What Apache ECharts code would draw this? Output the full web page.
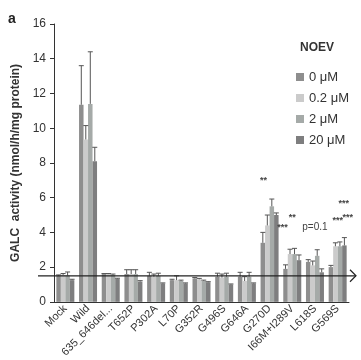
<!DOCTYPE html>
<html>
<head>
<meta charset="utf-8">
<script src="https://cdn.jsdelivr.net/npm/echarts@6/dist/echarts.min.js"></script>
<style>
  html, body { margin: 0; padding: 0; background: #fff; }
  #main { width: 361px; height: 360px; }
</style>
</head>
<body>
<div id="main"></div>
<script>
// categories (mutants)
let categories = ['Mock', 'Wild', '635_646del...', 'T652P', 'P302A', 'L70P', 'G352R',
    'G496S', 'G646A', 'G270D', 'I66M+I289V', 'L618S', 'G569S'];
let seriesNames = ['0 μM', '0.2 μM', '2 μM', '20 μM'];
let yTicks = [0, 2, 4, 6, 8, 10, 12, 14, 16];

// mean activity per NOEV dose
let v0 = [1.5, 11.35, 1.6, 1.6, 1.5, 1.25, 1.35, 1.45, 1.45, 3.4, 1.9, 2.3, 2.0];
let v02 = [1.55, 9.35, 1.6, 1.6, 1.45, 1.25, 1.3, 1.4, 1.2, 4.4, 2.75, 2.1, 3.2];
let v2 = [1.52, 11.4, 1.55, 1.6, 1.5, 1.2, 1.2, 1.45, 1.45, 5.5, 2.75, 2.65, 3.2];
let v20 = [1.25, 8.1, 1.33, 1.17, 1.06, 1.06, 1.13, 1.0, 1.06, 5.0, 2.4, 1.7, 3.25];

// upper error (SD)
let e0 = [0.05, 2.25, 0.03, 0.25, 0.2, 0.05, 0.05, 0.2, 0.25, 0.6, 0.23, 0.13, 0.1];
let e02 = [0.08, 0.8, 0.03, 0.25, 0.15, 0.25, 0.05, 0.2, 0.25, 0.6, 0.28, 0.25, 0.2];
let e2 = [0.2, 3.0, 0.05, 0.25, 0.15, 0.05, 0.05, 0.2, 0.25, 0.42, 0.33, 0.35, 0.25];
let e20 = [0.05, 0.8, 0.03, 0.05, 0.03, 0.03, 0.03, 0.03, 0.03, 0.12, 0.3, 0.2, 0.45];

// significance marks: text, category, value
let annoText = ['**', '***', '**', 'p=0.1', '***', '***', '***'];
let annoCat = ['G270D', 'G270D', 'I66M+I289V', 'L618S', 'G569S', 'G569S', 'G569S'];
let annoVal = [7.0, 4.3, 4.85, 4.3, 5.65, 4.7, 4.85];
let annoDx = [-6, 13, 0, 0, 6, 0, 10];

// reference level (mock)
let refLevel = 1.5;

let values = [v0, v02, v2, v20];
let errors = [e0, e02, e2, e20];
let colors = ['#8e8e8e', '#cbcbcb', '#a5aaa8', '#7e7e7f'];
let barW = 4.5;

var myChart = echarts.init(document.getElementById('main'));

let series = [];
values.forEach(function (arr, i) {
    series.push({
        name: seriesNames[i],
        type: 'bar',
        data: arr,
        barWidth: barW,
        barGap: '0%',
        itemStyle: { color: colors[i] },
        z: 2
    });
});
// error bars (upper only)
values.forEach(function (arr, i) {
    let d = arr.map(function (v, k) { return [k, v, v + errors[i][k]]; });
    series.push({
        type: 'custom',
        data: d,
        z: 3,
        renderItem: function (params, api) {
            let lo = api.coord([api.value(0), api.value(1)]);
            let hi = api.coord([api.value(0), api.value(2)]);
            let x = lo[0] + (i - 1.5) * barW;
            return {
                type: 'group',
                children: [
                    { type: 'line', shape: { x1: x, y1: lo[1], x2: x, y2: hi[1] },
                      style: { stroke: '#555', lineWidth: 1 } },
                    { type: 'line', shape: { x1: x - 2.5, y1: hi[1], x2: x + 2.5, y2: hi[1] },
                      style: { stroke: '#555', lineWidth: 1 } }
                ]
            };
        }
    });
});

let option = {
    animation: false,
    textStyle: { fontFamily: 'Liberation Sans, Arial, sans-serif' },
    grid: { left: 54, right: 12, top: 24, bottom: 58 },
    legend: {
        data: seriesNames,
        orient: 'vertical',
        left: 291,
        top: 65,
        itemWidth: 8,
        itemHeight: 8,
        itemGap: 7,
        icon: 'rect',
        textStyle: { fontSize: 13, color: '#333', lineHeight: 14, height: 14 }
    },
    xAxis: {
        type: 'category',
        data: categories,
        axisLine: { lineStyle: { color: '#333' } },
        axisTick: { length: 5, lineStyle: { color: '#333' } },
        axisLabel: { rotate: 45, fontSize: 11, color: '#333', margin: 5, interval: 0 }
    },
    yAxis: {
        type: 'value',
        min: 0,
        max: 16,
        interval: 2,
        name: 'GALC  activity (nmol/h/mg protein)',
        nameLocation: 'middle',
        nameGap: 30,
        nameTextStyle: { fontSize: 12, fontWeight: 'bold', color: '#333' },
        axisLine: { show: true, lineStyle: { color: '#333' } },
        axisTick: { show: true, length: 4, lineStyle: { color: '#333' } },
        axisLabel: { fontSize: 12, color: '#333', margin: 8,
            formatter: function (v) { return yTicks.indexOf(v) >= 0 ? String(v) : ''; } },
        splitLine: { show: false }
    },
    series: series
};
myChart.setOption(option);

// annotations placed through the axes
let refY = myChart.convertToPixel({ yAxisIndex: 0 }, refLevel);
let right = 356;
let graphics = [
    { type: 'text', left: 8, top: 12, style: { text: 'a', font: 'bold 14px Liberation Sans', fill: '#222' } },
    { type: 'text', x: 317, y: 48, style: { text: 'NOEV', font: 'bold 12px Liberation Sans', fill: '#333', align: 'center', verticalAlign: 'middle' } },
    { type: 'line', z: 10, shape: { x1: 38, y1: refY, x2: right, y2: refY }, style: { stroke: '#222', lineWidth: 1.2 } },
    { type: 'polyline', z: 10, shape: { points: [[right - 6, refY - 6], [right, refY], [right - 6, refY + 6]] }, style: { stroke: '#222', lineWidth: 1.2, fill: null } }
];
annoText.forEach(function (t, k) {
    let p = myChart.convertToPixel({ xAxisIndex: 0, yAxisIndex: 0 }, [annoCat[k], annoVal[k]]);
    graphics.push({
        type: 'text', z: 10, x: p[0] + annoDx[k], y: p[1],
        style: { text: t, font: (t.indexOf('p') === 0 ? '10px' : 'bold 9px') + ' Liberation Sans', fill: '#444', align: 'center', verticalAlign: 'middle' }
    });
});
myChart.setOption({ graphic: graphics });
</script>
</body>
</html>
